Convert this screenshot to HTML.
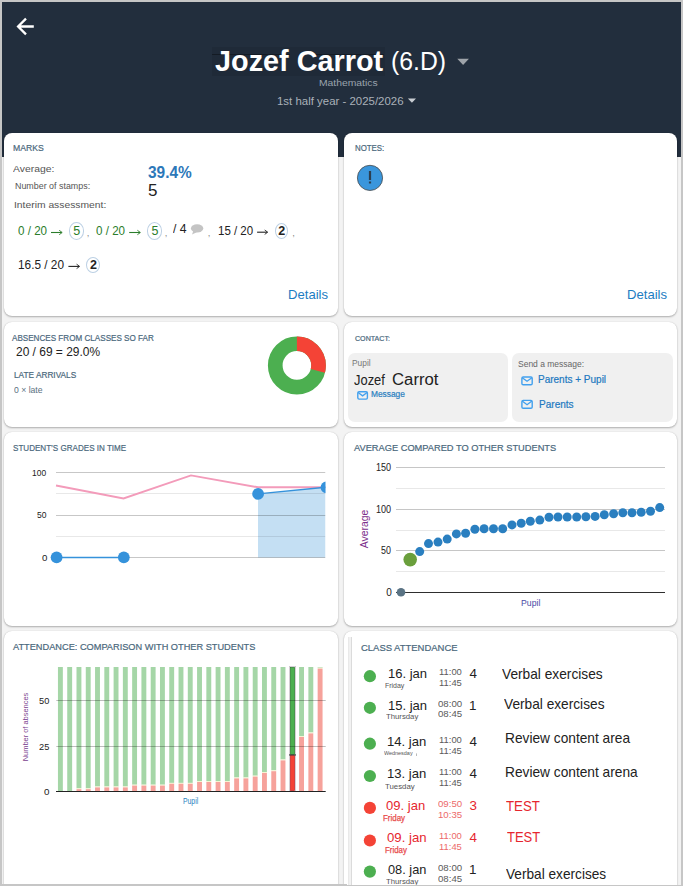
<!DOCTYPE html>
<html><head><meta charset="utf-8"><title>Student</title>
<style>
html,body{margin:0;padding:0;}
body{width:683px;height:886px;overflow:hidden;position:relative;background:#f3f3f3;font-family:"Liberation Sans", sans-serif;}
.t{position:absolute;z-index:3;line-height:1;white-space:nowrap;font-family:"Liberation Sans", sans-serif;}
.card{position:absolute;background:#fff;border-radius:8px;box-shadow:0 1px 2px rgba(0,0,0,0.28),0 0 1px rgba(0,0,0,0.18);}
.gbox{position:absolute;background:#f0f0f0;border-radius:7px;}
.mc{position:absolute;box-sizing:border-box;border:1px solid #bcd0e4;border-radius:50%;}
.bd{position:absolute;background:#c6c6c6;z-index:10;}
svg.g{position:absolute;left:0;top:0;}
</style></head><body>
<svg class="g" width="683" height="160" viewBox="0 0 683 160" style="z-index:0"><rect x="0" y="0" width="683" height="157" fill="#222e3d"/></svg>
<div class="card" style="left:4px;top:132.5px;width:334px;height:183.5px"></div><div class="card" style="left:344px;top:132.5px;width:333px;height:183.5px"></div><div class="card" style="left:4px;top:322px;width:334px;height:104.5px"></div><div class="card" style="left:344px;top:322px;width:333px;height:104.5px"></div><div class="card" style="left:4px;top:431.5px;width:334px;height:194.0px"></div><div class="card" style="left:344px;top:431.5px;width:333px;height:194.0px"></div><div class="card" style="left:4px;top:631px;width:334px;height:329px"></div><div class="card" style="left:344px;top:631px;width:333px;height:329px"></div><div class="mc" style="left:68.80px;top:222.40px;width:15.20px;height:17.20px"></div><div class="mc" style="left:147.20px;top:222.40px;width:15.00px;height:17.20px"></div><div class="mc" style="left:274.50px;top:223.00px;width:13.70px;height:16.30px"></div><div class="mc" style="left:86.30px;top:257.00px;width:14.00px;height:15.80px"></div><div class="gbox" style="left:348.2px;top:352.8px;width:159.6px;height:68.8px"></div><div class="gbox" style="left:512.3px;top:352.8px;width:160.8px;height:69.1px"></div>
<svg class="g" width="683" height="886" viewBox="0 0 683 886" style="z-index:2"><path d="M33.8 26.5 H18.5 M26.0 18.6 L18.1 26.5 L26.0 34.4" stroke="#fff" stroke-width="2.3" fill="none"/><rect x="212" y="47" width="173" height="29" fill="rgba(0,0,0,0.07)"/><rect x="212" y="54" width="78" height="1" fill="rgba(0,0,0,0.35)"/><rect x="316" y="54" width="68" height="1" fill="rgba(0,0,0,0.35)"/><path d="M457.3 58.8 L468.9 58.8 L463.1 65.1 Z" fill="#9ea3a9"/><path d="M407.9 98.4 L416 98.4 L411.95 102.7 Z" fill="#c9ced3"/><path d="M51.0 232.5 H61.800000000000004" stroke="#2b7d2b" stroke-width="1.1" fill="none"/><path d="M59.2 230.3 L62.2 232.5 L59.2 234.7" stroke="#2b7d2b" stroke-width="0.9" fill="none"/><path d="M129.2 232.5 H140.0" stroke="#2b7d2b" stroke-width="1.1" fill="none"/><path d="M137.4 230.3 L140.4 232.5 L137.4 234.7" stroke="#2b7d2b" stroke-width="0.9" fill="none"/><path d="M257.1 232.2 H267.3" stroke="#222" stroke-width="1.1" fill="none"/><path d="M264.7 230.0 L267.7 232.2 L264.7 234.39999999999998" stroke="#222" stroke-width="0.9" fill="none"/><path d="M68.4 266.4 H79.19999999999999" stroke="#222" stroke-width="1.1" fill="none"/><path d="M76.6 264.2 L79.6 266.4 L76.6 268.59999999999997" stroke="#222" stroke-width="0.9" fill="none"/><ellipse cx="197.1" cy="228.4" rx="6.2" ry="4.2" fill="#c4c4c4"/><path d="M193.3 231 L192.0 234.5 L196.8 232.2 Z" fill="#c4c4c4"/><circle cx="370" cy="177.9" r="12.6" fill="#3a96dc" stroke="#4a4a4a" stroke-width="0.8"/><rect x="368.9" y="171" width="2.2" height="9" fill="#2c3e50"/><rect x="368.9" y="181.5" width="2.2" height="2" fill="#2c3e50"/><circle cx="296.9" cy="365.4" r="21.65" fill="none" stroke="#4caf50" stroke-width="14.7"/><circle cx="296.9" cy="365.4" r="21.65" fill="none" stroke="#f44336" stroke-width="14.7" stroke-dasharray="39.449 136.031" transform="rotate(-90 296.9 365.4)"/><rect x="357.80" y="391.80" width="9.60" height="7.30" rx="1.3" fill="none" stroke="#42a0ee" stroke-width="1.4"/><path d="M358.10 392.50 L362.60 395.88 L367.10 392.50" fill="none" stroke="#42a0ee" stroke-width="1.3"/><rect x="521.90" y="377.00" width="10.30" height="7.70" rx="1.3" fill="none" stroke="#42a0ee" stroke-width="1.4"/><path d="M522.20 377.70 L527.05 381.31 L531.90 377.70" fill="none" stroke="#42a0ee" stroke-width="1.3"/><rect x="521.90" y="400.40" width="10.30" height="7.80" rx="1.3" fill="none" stroke="#42a0ee" stroke-width="1.4"/><path d="M522.20 401.10 L527.05 404.76 L531.90 401.10" fill="none" stroke="#42a0ee" stroke-width="1.3"/><defs><clipPath id="gc"><rect x="0" y="440" width="325.5" height="190"/></clipPath></defs><g clip-path="url(#gc)"><path d="M258 493.9 L325.5 487.3 L325.5 557.5 L258 557.5 Z" fill="#c4dff3"/><rect x="56" y="472" width="269.5" height="1" fill="rgba(0,0,0,0.22)"/><rect x="56" y="493" width="269.5" height="1" fill="rgba(0,0,0,0.09)"/><rect x="56" y="515" width="269.5" height="1" fill="rgba(0,0,0,0.22)"/><rect x="56" y="536" width="269.5" height="1" fill="rgba(0,0,0,0.09)"/><rect x="56" y="557" width="269.5" height="1" fill="rgba(0,0,0,0.22)"/><polyline points="56,485.5 123.5,498.5 191,475.4 258,487.3 325.5,487.3" fill="none" stroke="#f39bba" stroke-width="1.9"/><polyline points="56.6,557.5 123.8,557.5" fill="none" stroke="#3592db" stroke-width="1.5"/><polyline points="258,493.9 325.5,487.3" fill="none" stroke="#3592db" stroke-width="1.4"/><circle cx="56.6" cy="557.3" r="5.9" fill="#3592db"/><circle cx="123.8" cy="557.3" r="5.9" fill="#3592db"/><circle cx="258.1" cy="493.9" r="5.9" fill="#3592db"/><circle cx="326.5" cy="487.3" r="5.9" fill="#3592db"/></g><rect x="396" y="467" width="269" height="1" fill="#c6c6c6"/><rect x="396" y="488" width="269" height="1" fill="#e8e8e8"/><rect x="396" y="509" width="269" height="1" fill="#c6c6c6"/><rect x="396" y="530" width="269" height="1" fill="#e8e8e8"/><rect x="396" y="550" width="269" height="1" fill="#c6c6c6"/><rect x="396" y="571" width="269" height="1" fill="#e8e8e8"/><rect x="396" y="592" width="269" height="1" fill="#2e2e2e"/><circle cx="419.7" cy="551.6" r="4.5" fill="#2a7fc0"/><circle cx="428.5" cy="543.6" r="4.5" fill="#2a7fc0"/><circle cx="438" cy="542.1" r="4.5" fill="#2a7fc0"/><circle cx="447.2" cy="539.1" r="4.5" fill="#2a7fc0"/><circle cx="456.4" cy="533.9" r="4.5" fill="#2a7fc0"/><circle cx="465.6" cy="533.3" r="4.5" fill="#2a7fc0"/><circle cx="474.9" cy="529.2" r="4.5" fill="#2a7fc0"/><circle cx="484.1" cy="528.8" r="4.5" fill="#2a7fc0"/><circle cx="493.5" cy="528.8" r="4.5" fill="#2a7fc0"/><circle cx="502.7" cy="528.8" r="4.5" fill="#2a7fc0"/><circle cx="512" cy="524.9" r="4.5" fill="#2a7fc0"/><circle cx="521.2" cy="523.2" r="4.5" fill="#2a7fc0"/><circle cx="530.3" cy="521.2" r="4.5" fill="#2a7fc0"/><circle cx="539.8" cy="520.1" r="4.5" fill="#2a7fc0"/><circle cx="549" cy="517.2" r="4.5" fill="#2a7fc0"/><circle cx="558" cy="517" r="4.5" fill="#2a7fc0"/><circle cx="567.2" cy="517" r="4.5" fill="#2a7fc0"/><circle cx="576.7" cy="517" r="4.5" fill="#2a7fc0"/><circle cx="585.9" cy="516.8" r="4.5" fill="#2a7fc0"/><circle cx="595.1" cy="516.4" r="4.5" fill="#2a7fc0"/><circle cx="604.3" cy="514.8" r="4.5" fill="#2a7fc0"/><circle cx="613.6" cy="513.7" r="4.5" fill="#2a7fc0"/><circle cx="622.8" cy="512.8" r="4.5" fill="#2a7fc0"/><circle cx="632" cy="512.8" r="4.5" fill="#2a7fc0"/><circle cx="641.2" cy="512.2" r="4.5" fill="#2a7fc0"/><circle cx="650.5" cy="511.3" r="4.5" fill="#2a7fc0"/><circle cx="659.7" cy="507.6" r="4.5" fill="#2a7fc0"/><circle cx="410.2" cy="559.6" r="6.8" fill="#6a9f3c"/><circle cx="401" cy="592.3" r="4.3" fill="#5a7384"/><rect x="57.95" y="667.0" width="4.9" height="124.00" fill="#a5d6a7"/><rect x="67.23" y="667.0" width="4.9" height="124.00" fill="#a5d6a7"/><rect x="76.50" y="667.0" width="4.9" height="121.30" fill="#a5d6a7"/><rect x="76.50" y="788.30" width="4.9" height="0.9" fill="#f7f3cf"/><rect x="76.50" y="789.20" width="4.9" height="1.80" fill="#f6a29b"/><rect x="85.78" y="667.0" width="4.9" height="121.30" fill="#a5d6a7"/><rect x="85.78" y="788.30" width="4.9" height="0.9" fill="#f7f3cf"/><rect x="85.78" y="789.20" width="4.9" height="1.80" fill="#f6a29b"/><rect x="95.05" y="667.0" width="4.9" height="119.50" fill="#a5d6a7"/><rect x="95.05" y="786.50" width="4.9" height="0.9" fill="#f7f3cf"/><rect x="95.05" y="787.40" width="4.9" height="3.60" fill="#f6a29b"/><rect x="104.33" y="667.0" width="4.9" height="119.50" fill="#a5d6a7"/><rect x="104.33" y="786.50" width="4.9" height="0.9" fill="#f7f3cf"/><rect x="104.33" y="787.40" width="4.9" height="3.60" fill="#f6a29b"/><rect x="113.60" y="667.0" width="4.9" height="119.50" fill="#a5d6a7"/><rect x="113.60" y="786.50" width="4.9" height="0.9" fill="#f7f3cf"/><rect x="113.60" y="787.40" width="4.9" height="3.60" fill="#f6a29b"/><rect x="122.88" y="667.0" width="4.9" height="119.50" fill="#a5d6a7"/><rect x="122.88" y="786.50" width="4.9" height="0.9" fill="#f7f3cf"/><rect x="122.88" y="787.40" width="4.9" height="3.60" fill="#f6a29b"/><rect x="132.15" y="667.0" width="4.9" height="117.70" fill="#a5d6a7"/><rect x="132.15" y="784.70" width="4.9" height="0.9" fill="#f7f3cf"/><rect x="132.15" y="785.60" width="4.9" height="5.40" fill="#f6a29b"/><rect x="141.43" y="667.0" width="4.9" height="117.70" fill="#a5d6a7"/><rect x="141.43" y="784.70" width="4.9" height="0.9" fill="#f7f3cf"/><rect x="141.43" y="785.60" width="4.9" height="5.40" fill="#f6a29b"/><rect x="150.70" y="667.0" width="4.9" height="117.70" fill="#a5d6a7"/><rect x="150.70" y="784.70" width="4.9" height="0.9" fill="#f7f3cf"/><rect x="150.70" y="785.60" width="4.9" height="5.40" fill="#f6a29b"/><rect x="159.98" y="667.0" width="4.9" height="117.70" fill="#a5d6a7"/><rect x="159.98" y="784.70" width="4.9" height="0.9" fill="#f7f3cf"/><rect x="159.98" y="785.60" width="4.9" height="5.40" fill="#f6a29b"/><rect x="169.25" y="667.0" width="4.9" height="115.90" fill="#a5d6a7"/><rect x="169.25" y="782.90" width="4.9" height="0.9" fill="#f7f3cf"/><rect x="169.25" y="783.80" width="4.9" height="7.20" fill="#f6a29b"/><rect x="178.53" y="667.0" width="4.9" height="115.90" fill="#a5d6a7"/><rect x="178.53" y="782.90" width="4.9" height="0.9" fill="#f7f3cf"/><rect x="178.53" y="783.80" width="4.9" height="7.20" fill="#f6a29b"/><rect x="187.80" y="667.0" width="4.9" height="115.90" fill="#a5d6a7"/><rect x="187.80" y="782.90" width="4.9" height="0.9" fill="#f7f3cf"/><rect x="187.80" y="783.80" width="4.9" height="7.20" fill="#f6a29b"/><rect x="197.07" y="667.0" width="4.9" height="114.10" fill="#a5d6a7"/><rect x="197.07" y="781.10" width="4.9" height="0.9" fill="#f7f3cf"/><rect x="197.07" y="782.00" width="4.9" height="9.00" fill="#f6a29b"/><rect x="206.35" y="667.0" width="4.9" height="114.10" fill="#a5d6a7"/><rect x="206.35" y="781.10" width="4.9" height="0.9" fill="#f7f3cf"/><rect x="206.35" y="782.00" width="4.9" height="9.00" fill="#f6a29b"/><rect x="215.62" y="667.0" width="4.9" height="114.10" fill="#a5d6a7"/><rect x="215.62" y="781.10" width="4.9" height="0.9" fill="#f7f3cf"/><rect x="215.62" y="782.00" width="4.9" height="9.00" fill="#f6a29b"/><rect x="224.90" y="667.0" width="4.9" height="114.10" fill="#a5d6a7"/><rect x="224.90" y="781.10" width="4.9" height="0.9" fill="#f7f3cf"/><rect x="224.90" y="782.00" width="4.9" height="9.00" fill="#f6a29b"/><rect x="234.18" y="667.0" width="4.9" height="110.50" fill="#a5d6a7"/><rect x="234.18" y="777.50" width="4.9" height="0.9" fill="#f7f3cf"/><rect x="234.18" y="778.40" width="4.9" height="12.60" fill="#f6a29b"/><rect x="243.45" y="667.0" width="4.9" height="110.50" fill="#a5d6a7"/><rect x="243.45" y="777.50" width="4.9" height="0.9" fill="#f7f3cf"/><rect x="243.45" y="778.40" width="4.9" height="12.60" fill="#f6a29b"/><rect x="252.73" y="667.0" width="4.9" height="108.70" fill="#a5d6a7"/><rect x="252.73" y="775.70" width="4.9" height="0.9" fill="#f7f3cf"/><rect x="252.73" y="776.60" width="4.9" height="14.40" fill="#f6a29b"/><rect x="262.00" y="667.0" width="4.9" height="105.10" fill="#a5d6a7"/><rect x="262.00" y="772.10" width="4.9" height="0.9" fill="#f7f3cf"/><rect x="262.00" y="773.00" width="4.9" height="18.00" fill="#f6a29b"/><rect x="271.28" y="667.0" width="4.9" height="103.30" fill="#a5d6a7"/><rect x="271.28" y="770.30" width="4.9" height="0.9" fill="#f7f3cf"/><rect x="271.28" y="771.20" width="4.9" height="19.80" fill="#f6a29b"/><rect x="280.55" y="667.0" width="4.9" height="92.50" fill="#a5d6a7"/><rect x="280.55" y="759.50" width="4.9" height="0.9" fill="#f7f3cf"/><rect x="280.55" y="760.40" width="4.9" height="30.60" fill="#f6a29b"/><rect x="289.4" y="666.4" width="6.2" height="124.60" fill="none" stroke="#cbc5cb" stroke-width="0.8"/><rect x="290.35" y="667.35" width="4.3" height="87.30" fill="#4caf50" stroke="#2e7d32" stroke-width="0.7"/><rect x="290.35" y="755.35" width="4.3" height="35.30" fill="#f44336" stroke="#c62828" stroke-width="0.7"/><rect x="289.0" y="754.40" width="7" height="1.1" fill="#3a3a3a"/><rect x="299.10" y="667.0" width="4.9" height="69.10" fill="#a5d6a7"/><rect x="299.10" y="736.10" width="4.9" height="0.9" fill="#f7f3cf"/><rect x="299.10" y="737.00" width="4.9" height="54.00" fill="#f6a29b"/><rect x="308.38" y="667.0" width="4.9" height="65.50" fill="#a5d6a7"/><rect x="308.38" y="732.50" width="4.9" height="0.9" fill="#f7f3cf"/><rect x="308.38" y="733.40" width="4.9" height="57.60" fill="#f6a29b"/><rect x="317.65" y="667.0" width="4.9" height="0.70" fill="#a5d6a7"/><rect x="317.65" y="667.70" width="4.9" height="0.9" fill="#f7f3cf"/><rect x="317.65" y="668.60" width="4.9" height="122.40" fill="#f6a29b"/><rect x="56.3" y="700" width="269.4" height="1" fill="rgba(0,0,0,0.26)"/><rect x="56.3" y="746" width="269.4" height="1" fill="rgba(0,0,0,0.26)"/><rect x="56" y="791" width="269.7" height="1" fill="#222"/><rect x="348.3" y="637" width="3.6" height="260" fill="#f2f2f2"/><rect x="348.3" y="637" width="0.8" height="260" fill="#e4e4e4"/><rect x="351.1" y="637" width="0.9" height="260" fill="#d9d9d9"/><circle cx="369.9" cy="676.2" r="6.1" fill="#4caf50"/><circle cx="369.9" cy="707.8" r="6.1" fill="#4caf50"/><circle cx="369.9" cy="743.7" r="6.1" fill="#4caf50"/><circle cx="369.9" cy="776.0" r="6.1" fill="#4caf50"/><circle cx="369.9" cy="807.9" r="6.1" fill="#f44336"/><circle cx="369.9" cy="840.5" r="6.1" fill="#f44336"/><circle cx="369.9" cy="871.6" r="6.1" fill="#4caf50"/><rect x="416.2" y="753.4" width="0.8" height="2.6" fill="#aaa"/></svg>
<div class="t" style="left:215.10px;top:47.00px;font-size:28.8px;color:#fff;font-weight:bold;">Jozef Carrot</div><div class="t" style="left:390.71px;top:49.00px;font-size:25px;color:#fff;transform:scaleX(0.9901);transform-origin:0 0;">(6.D)</div><div class="t" style="left:318.80px;top:78.00px;font-size:9.6px;color:#9aa3ad;transform:scaleX(1.0772);transform-origin:0 0;">Mathematics</div><div class="t" style="left:276.60px;top:96.00px;font-size:11.2px;color:#aab1b9;transform:scaleX(1.0223);transform-origin:0 0;">1st half year - 2025/2026</div><div class="t" style="left:13.40px;top:144.00px;font-size:9.3px;color:#4a687c;transform:scaleX(0.9312);transform-origin:0 0;-webkit-text-stroke:0.2px #4a687c;">MARKS</div><div class="t" style="left:13.40px;top:165.00px;font-size:9.3px;color:#555;transform:scaleX(1.1163);transform-origin:0 0;">Average:</div><div class="t" style="left:147.90px;top:165.00px;font-size:16.7px;color:#2d78b9;transform:scaleX(0.9246);transform-origin:0 0;font-weight:bold;">39.4%</div><div class="t" style="left:14.60px;top:182.00px;font-size:8.6px;color:#555;transform:scaleX(1.0345);transform-origin:0 0;">Number of stamps:</div><div class="t" style="left:147.90px;top:182.00px;font-size:17px;color:#222;">5</div><div class="t" style="left:13.90px;top:200.00px;font-size:9.8px;color:#555;transform:scaleX(1.0525);transform-origin:0 0;">Interim assessment:</div><div class="t" style="left:17.70px;top:225.00px;font-size:12.5px;color:#2b7d2b;transform:scaleX(0.9290);transform-origin:0 0;">0 / 20</div><div class="t" style="left:73.22px;top:225.00px;font-size:12.5px;color:#2b7d2b;">5</div><div class="t" style="left:86.80px;top:228.00px;font-size:9.5px;color:#888;">,</div><div class="t" style="left:95.90px;top:225.00px;font-size:12.5px;color:#2b7d2b;transform:scaleX(0.9290);transform-origin:0 0;">0 / 20</div><div class="t" style="left:151.53px;top:225.00px;font-size:12.5px;color:#2b7d2b;">5</div><div class="t" style="left:164.80px;top:228.00px;font-size:9.5px;color:#888;">,</div><div class="t" style="left:172.80px;top:223.00px;font-size:12.5px;color:#222;transform:scaleX(0.9752);transform-origin:0 0;">/ 4</div><div class="t" style="left:207.70px;top:228.00px;font-size:9.5px;color:#888;">,</div><div class="t" style="left:217.80px;top:225.00px;font-size:12.5px;color:#222;transform:scaleX(0.9197);transform-origin:0 0;">15 / 20</div><div class="t" style="left:278.18px;top:225.00px;font-size:12.5px;color:#222;font-weight:bold;">2</div><div class="t" style="left:292.20px;top:228.00px;font-size:9.5px;color:#888;">,</div><div class="t" style="left:18.00px;top:259.00px;font-size:12.5px;color:#222;transform:scaleX(0.9446);transform-origin:0 0;">16.5 / 20</div><div class="t" style="left:90.12px;top:259.00px;font-size:12.5px;color:#222;font-weight:bold;">2</div><div class="t" style="left:288.16px;top:289.00px;font-size:12.6px;color:#1b7cc2;transform:scaleX(1.0404);transform-origin:0 0;">Details</div><div class="t" style="left:354.70px;top:144.00px;font-size:8.9px;color:#4a687c;transform:scaleX(0.8872);transform-origin:0 0;-webkit-text-stroke:0.2px #4a687c;">NOTES:</div><div class="t" style="left:627.26px;top:289.00px;font-size:12.6px;color:#1b7cc2;transform:scaleX(1.0404);transform-origin:0 0;">Details</div><div class="t" style="left:12.20px;top:334.00px;font-size:9.1px;color:#4a687c;transform:scaleX(0.8909);transform-origin:0 0;-webkit-text-stroke:0.2px #4a687c;">ABSENCES FROM CLASSES SO FAR</div><div class="t" style="left:15.60px;top:346.00px;font-size:12.5px;color:#222;transform:scaleX(0.9556);transform-origin:0 0;">20 / 69 = 29.0%</div><div class="t" style="left:13.60px;top:371.00px;font-size:8.6px;color:#4a687c;transform:scaleX(0.9621);transform-origin:0 0;-webkit-text-stroke:0.2px #4a687c;">LATE ARRIVALS</div><div class="t" style="left:13.90px;top:386.00px;font-size:8.4px;color:#5a7080;transform:scaleX(1.0304);transform-origin:0 0;">0 × late</div><div class="t" style="left:355.00px;top:336.00px;font-size:7.1px;color:#4a687c;-webkit-text-stroke:0.2px #4a687c;">CONTACT:</div><div class="t" style="left:352.40px;top:359.00px;font-size:8.5px;color:#777;transform:scaleX(0.9836);transform-origin:0 0;">Pupil</div><div class="t" style="left:354.10px;top:373.00px;font-size:14.5px;color:#222;transform:scaleX(0.8897);transform-origin:0 0;">Jozef</div><div class="t" style="left:391.60px;top:372.00px;font-size:15.6px;color:#222;transform:scaleX(1.0729);transform-origin:0 0;">Carrot</div><div class="t" style="left:371.40px;top:390.00px;font-size:8.5px;color:#2a7fc0;transform:scaleX(0.9809);transform-origin:0 0;-webkit-text-stroke:0.2px #2a7fc0;">Message</div><div class="t" style="left:517.50px;top:360.00px;font-size:8.7px;color:#666;transform:scaleX(0.9777);transform-origin:0 0;">Send a message:</div><div class="t" style="left:537.60px;top:374.00px;font-size:10.8px;color:#2178c0;transform:scaleX(0.9258);transform-origin:0 0;-webkit-text-stroke:0.2px #2178c0;">Parents + Pupil</div><div class="t" style="left:538.90px;top:399.00px;font-size:10.8px;color:#2178c0;transform:scaleX(0.9310);transform-origin:0 0;-webkit-text-stroke:0.2px #2178c0;">Parents</div><div class="t" style="left:13.10px;top:444.00px;font-size:9.1px;color:#4a687c;transform:scaleX(0.8868);transform-origin:0 0;-webkit-text-stroke:0.2px #4a687c;">STUDENT’S GRADES IN TIME</div><div class="t" style="left:32.40px;top:468.00px;font-size:9.7px;color:#222;transform:scaleX(0.8703);transform-origin:0 0;">100</div><div class="t" style="left:37.00px;top:510.00px;font-size:9.7px;color:#222;transform:scaleX(0.8781);transform-origin:0 0;">50</div><div class="t" style="left:42.00px;top:553.00px;font-size:9.7px;color:#222;">0</div><div class="t" style="left:354.40px;top:443.00px;font-size:9.4px;color:#4a687c;transform:scaleX(0.9885);transform-origin:0 0;-webkit-text-stroke:0.2px #4a687c;">AVERAGE COMPARED TO OTHER STUDENTS</div><div class="t" style="left:375.50px;top:463.00px;font-size:10px;color:#222;transform:scaleX(0.9052);transform-origin:0 0;">150</div><div class="t" style="left:375.50px;top:505.00px;font-size:10px;color:#222;transform:scaleX(0.9052);transform-origin:0 0;">100</div><div class="t" style="left:380.70px;top:546.00px;font-size:10px;color:#222;transform:scaleX(0.8909);transform-origin:0 0;">50</div><div class="t" style="left:386.30px;top:588.00px;font-size:10px;color:#222;">0</div><div class="t" style="left:364.6px;top:528.6px;font-size:10.4px;color:#7b2d8b;transform:translate(-50%,-50%) rotate(-90deg);">Average</div><div class="t" style="left:520.90px;top:599.00px;font-size:9.2px;color:#4a4aa6;transform:scaleX(0.9466);transform-origin:0 0;">Pupil</div><div class="t" style="left:13.30px;top:642.00px;font-size:9.4px;color:#4a687c;transform:scaleX(0.9830);transform-origin:0 0;-webkit-text-stroke:0.2px #4a687c;">ATTENDANCE: COMPARISON WITH OTHER STUDENTS</div><div class="t" style="left:38.70px;top:696.00px;font-size:9.8px;color:#222;transform:scaleX(0.9433);transform-origin:0 0;">50</div><div class="t" style="left:38.70px;top:742.00px;font-size:9.8px;color:#222;transform:scaleX(0.9433);transform-origin:0 0;">25</div><div class="t" style="left:43.90px;top:787.00px;font-size:9.8px;color:#222;">0</div><div class="t" style="left:25.6px;top:727.1px;font-size:7.45px;color:#7b3f8f;transform:translate(-50%,-50%) rotate(-90deg);">Number of absences</div><div class="t" style="left:182.90px;top:797.00px;font-size:8.4px;color:#2a7fc0;transform:scaleX(0.8155);transform-origin:0 0;">Pupil</div><div class="t" style="left:361.40px;top:643.00px;font-size:9.8px;color:#4a687c;transform:scaleX(0.9654);transform-origin:0 0;-webkit-text-stroke:0.2px #4a687c;">CLASS ATTENDANCE</div><div class="t" style="left:387.54px;top:667.00px;font-size:13.6px;color:#222;transform:scaleX(0.9579);transform-origin:0 0;">16. jan</div><div class="t" style="left:385.10px;top:683.00px;font-size:6.6px;color:#555;transform:scaleX(1.0566);transform-origin:0 0;">Friday</div><div class="t" style="left:438.90px;top:668.00px;font-size:9.1px;color:#5a5a5a;transform:scaleX(1.0352);transform-origin:0 0;">11:00</div><div class="t" style="left:438.90px;top:679.00px;font-size:9.1px;color:#5a5a5a;transform:scaleX(1.0352);transform-origin:0 0;">11:45</div><div class="t" style="left:469.40px;top:667.00px;font-size:13.4px;color:#222;">4</div><div class="t" style="left:501.90px;top:667.00px;font-size:14.6px;color:#222;transform:scaleX(0.9403);transform-origin:0 0;">Verbal exercises</div><div class="t" style="left:387.54px;top:699.00px;font-size:13.6px;color:#222;transform:scaleX(0.9579);transform-origin:0 0;">15. jan</div><div class="t" style="left:385.90px;top:713.00px;font-size:7.6px;color:#555;transform:scaleX(1.0202);transform-origin:0 0;">Thursday</div><div class="t" style="left:437.60px;top:700.00px;font-size:9.1px;color:#5a5a5a;transform:scaleX(1.0617);transform-origin:0 0;">08:00</div><div class="t" style="left:437.60px;top:710.00px;font-size:9.1px;color:#5a5a5a;transform:scaleX(1.0617);transform-origin:0 0;">08:45</div><div class="t" style="left:469.00px;top:699.00px;font-size:13.4px;color:#222;">1</div><div class="t" style="left:504.10px;top:697.00px;font-size:14.6px;color:#222;transform:scaleX(0.9384);transform-origin:0 0;">Verbal exercises</div><div class="t" style="left:387.34px;top:735.00px;font-size:13.6px;color:#222;transform:scaleX(0.9630);transform-origin:0 0;">14. jan</div><div class="t" style="left:384.10px;top:750.00px;font-size:6.0px;color:#555;transform:scaleX(0.9057);transform-origin:0 0;">Wednesday</div><div class="t" style="left:438.90px;top:736.00px;font-size:9.1px;color:#5a5a5a;transform:scaleX(1.0352);transform-origin:0 0;">11:00</div><div class="t" style="left:438.90px;top:747.00px;font-size:9.1px;color:#5a5a5a;transform:scaleX(1.0352);transform-origin:0 0;">11:45</div><div class="t" style="left:469.40px;top:735.00px;font-size:13.4px;color:#222;">4</div><div class="t" style="left:504.56px;top:731.00px;font-size:14.6px;color:#222;transform:scaleX(0.9396);transform-origin:0 0;">Review content area</div><div class="t" style="left:387.34px;top:767.00px;font-size:13.6px;color:#222;transform:scaleX(0.9630);transform-origin:0 0;">13. jan</div><div class="t" style="left:385.40px;top:783.00px;font-size:7.2px;color:#555;transform:scaleX(1.0864);transform-origin:0 0;">Tuesday</div><div class="t" style="left:438.90px;top:768.00px;font-size:9.1px;color:#5a5a5a;transform:scaleX(1.0352);transform-origin:0 0;">11:00</div><div class="t" style="left:438.90px;top:779.00px;font-size:9.1px;color:#5a5a5a;transform:scaleX(1.0352);transform-origin:0 0;">11:45</div><div class="t" style="left:469.40px;top:767.00px;font-size:13.4px;color:#222;">4</div><div class="t" style="left:504.56px;top:765.00px;font-size:14.6px;color:#222;transform:scaleX(0.9402);transform-origin:0 0;">Review content arena</div><div class="t" style="left:385.60px;top:799.00px;font-size:13.6px;color:#e6262e;transform:scaleX(0.9589);transform-origin:0 0;">09. jan</div><div class="t" style="left:383.20px;top:814.00px;font-size:8.4px;color:#e84c4c;transform:scaleX(0.9468);transform-origin:0 0;-webkit-text-stroke:0.25px #e84c4c;">Friday</div><div class="t" style="left:437.60px;top:800.00px;font-size:9.1px;color:#ec6a6a;transform:scaleX(1.0617);transform-origin:0 0;">09:50</div><div class="t" style="left:437.60px;top:811.00px;font-size:9.1px;color:#ec6a6a;transform:scaleX(1.0617);transform-origin:0 0;">10:35</div><div class="t" style="left:469.40px;top:799.00px;font-size:13.4px;color:#e6262e;">3</div><div class="t" style="left:505.90px;top:799.00px;font-size:14.6px;color:#e6262e;transform:scaleX(0.9068);transform-origin:0 0;">TEST</div><div class="t" style="left:387.40px;top:831.00px;font-size:13.6px;color:#e6262e;transform:scaleX(0.9688);transform-origin:0 0;">09. jan</div><div class="t" style="left:385.30px;top:846.00px;font-size:8.4px;color:#e84c4c;transform:scaleX(0.9427);transform-origin:0 0;-webkit-text-stroke:0.25px #e84c4c;">Friday</div><div class="t" style="left:438.90px;top:832.00px;font-size:9.1px;color:#ec6a6a;transform:scaleX(1.0352);transform-origin:0 0;">11:00</div><div class="t" style="left:438.90px;top:843.00px;font-size:9.1px;color:#ec6a6a;transform:scaleX(1.0352);transform-origin:0 0;">11:45</div><div class="t" style="left:469.40px;top:831.00px;font-size:13.4px;color:#e6262e;">4</div><div class="t" style="left:507.00px;top:830.00px;font-size:14.6px;color:#e6262e;transform:scaleX(0.8908);transform-origin:0 0;">TEST</div><div class="t" style="left:388.30px;top:863.00px;font-size:13.6px;color:#222;transform:scaleX(0.9390);transform-origin:0 0;">08. jan</div><div class="t" style="left:385.90px;top:878.00px;font-size:7.6px;color:#555;transform:scaleX(1.0202);transform-origin:0 0;">Thursday</div><div class="t" style="left:437.60px;top:864.00px;font-size:9.1px;color:#5a5a5a;transform:scaleX(1.0617);transform-origin:0 0;">08:00</div><div class="t" style="left:437.60px;top:875.00px;font-size:9.1px;color:#5a5a5a;transform:scaleX(1.0617);transform-origin:0 0;">08:45</div><div class="t" style="left:469.00px;top:863.00px;font-size:13.4px;color:#222;">1</div><div class="t" style="left:505.50px;top:867.00px;font-size:14.6px;color:#222;transform:scaleX(0.9356);transform-origin:0 0;">Verbal exercises</div>
<div class="bd" style="left:0;top:0;width:683px;height:2px"></div><div class="bd" style="left:0;top:0;width:2px;height:886px"></div><div class="bd" style="left:681px;top:0;width:2px;height:886px"></div><div class="bd" style="left:0;top:884px;width:347px;height:2px"></div><div class="bd" style="left:347px;top:884.8px;width:336px;height:1.2px"></div>
</body></html>
